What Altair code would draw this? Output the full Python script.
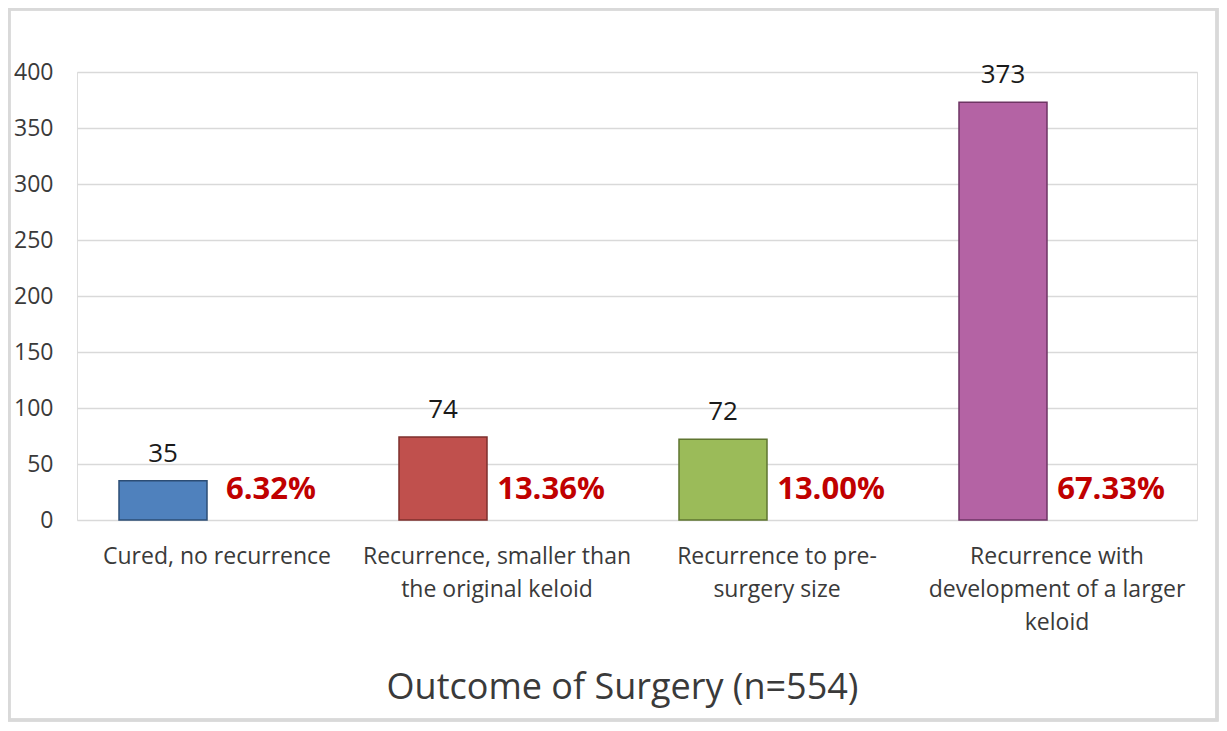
import altair as alt
import pandas as pd

categories = [
    "Cured, no recurrence",
    "Recurrence, smaller than the original keloid",
    "Recurrence to pre-surgery size",
    "Recurrence with development of a larger keloid",
]
label_lines = [
    ["Cured, no recurrence"],
    ["Recurrence, smaller than", "the original keloid"],
    ["Recurrence to pre-", "surgery size"],
    ["Recurrence with", "development of a larger", "keloid"],
]
counts = [35, 74, 72, 373]
percents = ["6.32%", "13.36%", "13.00%", "67.33%"]
fills = ["#4F81BD", "#C0504D", "#9BBB59", "#B463A4"]
strokes = ["#2C4D75", "#7E2F2D", "#5F7530", "#6E3564"]
y_ticks = [0, 50, 100, 150, 200, 250, 300, 350, 400]

df = pd.DataFrame({"cat": categories, "count": counts, "pct": percents})

FONT = "Open Sans"
GREY = "#3A3A3A"

label_expr = ""
for c, lines in zip(categories, label_lines):
    arr = "[" + ",".join("'" + l + "'" for l in lines) + "]"
    label_expr += f"datum.value == '{c}' ? {arr} : "
label_expr += "datum.label"

x_enc = alt.X(
    "cat:N",
    sort=categories,
    scale=alt.Scale(paddingInner=0, paddingOuter=0),
    axis=alt.Axis(
        title="Outcome of Surgery (n=554)",
        titleFont=FONT,
        titleFontSize=36,
        titleFontWeight="normal",
        titleColor=GREY,
        titlePadding=36,
        titleX=545,
        titleAlign="center",
        labelExpr=label_expr,
        labelFont=FONT,
        labelFontSize=23,
        labelColor=GREY,
        labelAngle=0,
        labelPadding=25,
        labelLineHeight=33,
        labelBaseline="top",
        labelLimit=0,
        ticks=False,
        domain=False,
        grid=False,
    ),
)
y_enc = alt.Y(
    "count:Q",
    scale=alt.Scale(domain=[0, 400], nice=False),
    axis=alt.Axis(
        title=None,
        values=y_ticks,
        labelFont=FONT,
        labelFontSize=23,
        labelColor=GREY,
        labelPadding=24,
        ticks=False,
        domain=False,
        gridColor="#D9D9D9",
        gridWidth=1.5,
    ),
)

base = alt.Chart(df)

bars = base.mark_bar(width=88, xOffset=-54, strokeWidth=1.5).encode(
    x=x_enc,
    y=y_enc,
    fill=alt.Color("cat:N", scale=alt.Scale(domain=categories, range=fills), legend=None),
    stroke=alt.Stroke("cat:N", scale=alt.Scale(domain=categories, range=strokes), legend=None),
)

count_text = base.mark_text(
    xOffset=-54, dy=-27, font=FONT, fontSize=26, color="#1A1A1A", baseline="middle"
).encode(x=alt.X("cat:N", sort=categories), y="count:Q", text="count:Q")

pct_text = base.mark_text(
    xOffset=54, dy=-30, font=FONT, fontSize=31, fontWeight="bold", color="#C00000", baseline="middle"
).encode(x=alt.X("cat:N", sort=categories), y=alt.datum(0), text="pct:N")

frame = base.mark_rect(fill=None, stroke="#D9D9D9", strokeWidth=3).encode(
    x=alt.value(-68), x2=alt.value(1120 + 20), y=alt.value(-63), y2=alt.value(448 + 200)
)

chart = (
    alt.layer(frame, bars, count_text, pct_text)
    .properties(
        width=1120,
        height=448,
        autosize=alt.AutoSizeParams(type="none"),
        padding={"left": 69, "top": 64, "right": 22, "bottom": 203},
    )
    .configure_view(stroke=None)
    .configure(background="white")
)

chart.save("out.html", embed_options={"renderer": "svg", "actions": False})
